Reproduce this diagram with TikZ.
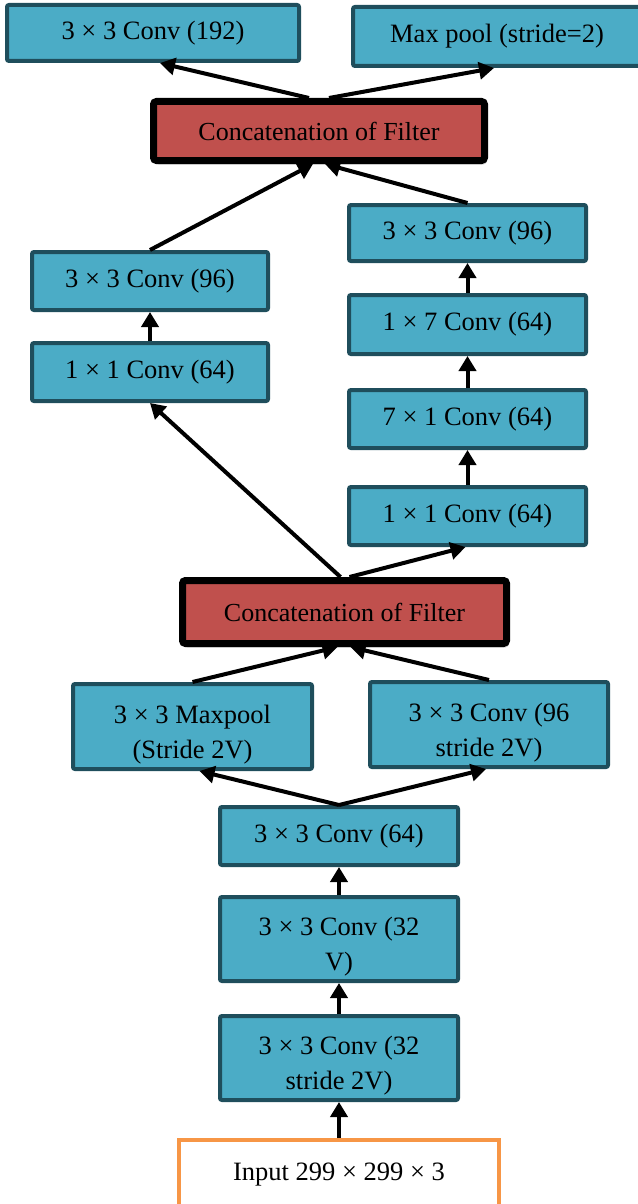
\documentclass[tikz,border=0pt]{standalone}
\usepackage{fontspec}
\setmainfont{Liberation Serif}
\usetikzlibrary{arrows.meta,shadows}
\definecolor{convfill}{HTML}{4BACC6}
\definecolor{convline}{HTML}{1F4E5C}
\definecolor{catfill}{HTML}{C0504D}
\definecolor{inpline}{HTML}{F79646}
\def\arr{\draw[-{Triangle[width=17pt,length=15pt]},line width=4pt]}
\def\sk{\rule{0pt}{34pt}}

\begin{document}
\begin{tikzpicture}[x=1pt,y=-1pt,
        conv/.style={draw=convline,fill=convfill,line width=4pt,rounded corners=2pt,
            font=\fontsize{26.5}{35}\selectfont,align=center,inner sep=0pt},
        cat/.style={draw=black,fill=catfill,line width=7pt,rounded corners=3pt,
            font=\fontsize{26}{35}\selectfont,inner sep=0pt,
            drop shadow={opacity=0.3,shadow xshift=2pt,shadow yshift=-4pt}},
        inp/.style={draw=inpline,fill=white,line width=4pt,
            font=\fontsize{26.5}{35}\selectfont,inner sep=0pt}]
    \useasboundingbox (0,0) rectangle (637,1204);
    % top outputs
    \node[conv,minimum width=292pt,minimum height=56pt] (c192) at (153,33) {3 × 3 Conv (192)};
    \node[conv,minimum width=288pt,minimum height=59pt] (mpool) at (497,36.5) {Max pool (stride=2)};
    \node[cat,minimum width=331pt,minimum height=59pt] (cat1) at (319,131) {Concatenation of Filter};
    % left branch
    \node[conv,minimum width=236pt,minimum height=58pt] (l3) at (150,281) {3 × 3 Conv (96)};
    \node[conv,minimum width=236pt,minimum height=58pt] (l1) at (150,372) {1 × 1 Conv (64)};
    % right branch
    \node[conv,minimum width=237pt,minimum height=56pt] (r3) at (467.5,233) {3 × 3 Conv (96)};
    \node[conv,minimum width=237pt,minimum height=59pt] (r17) at (467.5,324.5) {1 × 7 Conv (64)};
    \node[conv,minimum width=237pt,minimum height=58pt] (r71) at (467.5,419) {7 × 1 Conv (64)};
    \node[conv,minimum width=237pt,minimum height=58pt] (r11) at (467.5,516) {1 × 1 Conv (64)};
    \node[cat,minimum width=324pt,minimum height=63pt] (cat2) at (344.5,612) {Concatenation of Filter};
    % stem
    \node[conv,minimum width=239pt,minimum height=85pt] (mp) at (192.5,726.5) {\sk3 × 3 Maxpool\\(Stride 2V)};
    \node[conv,minimum width=238pt,minimum height=85pt] (c96s) at (489,724.5) {\sk3 × 3 Conv (96\\stride 2V)};
    \node[conv,minimum width=238pt,minimum height=58pt] (c64) at (339,836) {3 × 3 Conv (64)};
    \node[conv,minimum width=238pt,minimum height=84pt] (c32v) at (339,939) {\sk3 × 3 Conv (32\\V)};
    \node[conv,minimum width=238pt,minimum height=84pt] (c32s) at (339,1058) {\sk3 × 3 Conv (32\\stride 2V)};
    \node[inp,minimum width=320pt,minimum height=70pt] (input) at (339,1175) {Input 299 × 299 × 3};

    \arr ([xshift=-10pt]cat1.north) -- ([xshift=7pt]c192.south);
    \arr ([xshift=10pt]cat1.north) -- ([xshift=-3pt]mpool.south);
    \arr (l3.north) -- ([xshift=-6pt]cat1.south);
    \arr (r3.north) -- ([xshift=6pt]cat1.south);
    \arr (l1.north) -- (l3.south);
    \arr (r17.north) -- (r3.south);
    \arr (r71.north) -- (r17.south);
    \arr (r11.north) -- (r71.south);
    \arr ([xshift=-4pt]cat2.north) -- (l1.south);
    \arr ([xshift=5pt]cat2.north) -- ([xshift=-2pt]r11.south);
    \arr (mp.north) -- ([xshift=-7pt]cat2.south);
    \arr (c96s.north) -- ([xshift=6pt]cat2.south);
    \arr (c64.north) -- ([xshift=7pt]mp.south);
    \arr (c64.north) -- ([xshift=-3pt]c96s.south);
    \arr (c32v.north) -- (c64.south);
    \arr (c32s.north) -- (c32v.south);
    \arr (input.north) -- (c32s.south);
\end{tikzpicture}
\end{document}
